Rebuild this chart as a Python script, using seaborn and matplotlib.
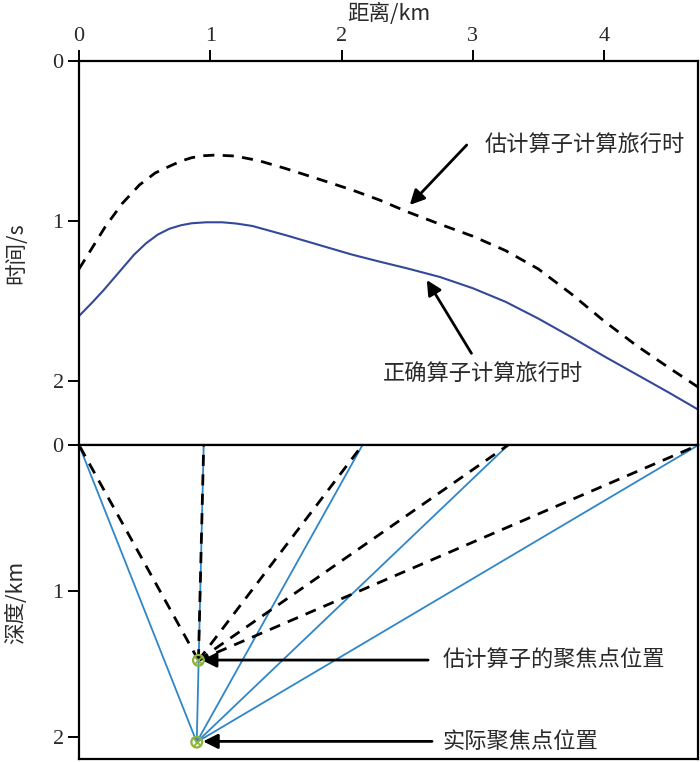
import numpy as np
import pandas as pd
import matplotlib
matplotlib.use("Agg")
import matplotlib.pyplot as plt
import seaborn as sns

# ---------------- data ----------------
dist_est = [0.0, 0.076, 0.2, 0.33, 0.46, 0.58, 0.71, 0.79, 0.86, 0.95, 1.04, 1.19, 1.37, 1.57, 1.83, 2.08, 2.29, 2.5,
            2.75, 3.0, 3.25, 3.5, 3.75, 4.0, 4.25, 4.5, 4.72]
time_est = [1.30, 1.20, 1.036, 0.89, 0.775, 0.70, 0.65, 0.622, 0.604, 0.592, 0.588, 0.594, 0.623, 0.671, 0.739, 0.806, 0.869, 0.942,
            1.02, 1.095, 1.185, 1.30, 1.455, 1.625, 1.78, 1.92, 2.04]

dist_true = [0.0, 0.1, 0.19, 0.33, 0.42, 0.51, 0.6, 0.69, 0.78, 0.86, 0.97, 1.09, 1.2, 1.32, 1.57, 1.83, 2.08, 2.29, 2.5,
             2.75, 3.0, 3.25, 3.5, 3.75, 4.0, 4.25, 4.5, 4.72]
time_true = [1.594, 1.51, 1.43, 1.296, 1.21, 1.14, 1.085, 1.048, 1.026, 1.014, 1.008, 1.008, 1.016, 1.031, 1.0875, 1.15, 1.21, 1.254, 1.296,
             1.35, 1.42, 1.505, 1.61, 1.725, 1.845, 1.96, 2.075, 2.18]

receivers_x = [0.0, 0.95, 2.16, 3.27, 4.72]
est_focus = (0.91, 1.475)
true_focus = (0.897, 2.035)

x_ticks = [0, 1, 2, 3, 4]
t_ticks = [0, 1, 2]
z_ticks = [0, 1, 2]

lab_dist = "距离/km"
lab_time = "时间/s"
lab_depth = "深度/km"
txt_est_tt = "估计算子计算旅行时"
txt_true_tt = "正确算子计算旅行时"
txt_est_focus = "估计算子的聚焦点位置"
txt_true_focus = "实际聚焦点位置"

# ---------------- style ----------------
sns.set_theme(style="white")
plt.rcParams["font.family"] = ["Liberation Serif", "Noto Sans CJK SC", "DejaVu Sans"]
cjk = ["Noto Sans CJK SC", "DejaVu Sans"]
txtcol = "#2a2a2a"

fig = plt.figure(figsize=(7.0, 7.62), dpi=100)
W, H = 700, 762
left, right = 79 / W, 698 / W
ax1 = fig.add_axes([left, 1 - 445 / H, right - left, (445 - 61) / H])
ax2 = fig.add_axes([left, 1 - 759 / H, right - left, (759 - 445) / H])

xmax = 619 / 131.25

arrow_kw = dict(arrowstyle="-|>", color="black", lw=2, mutation_scale=22, shrinkA=0, shrinkB=0)

# ---------- top panel ----------
df_est = pd.DataFrame({"dist": dist_est, "time": time_est})
df_true = pd.DataFrame({"dist": dist_true, "time": time_true})
sns.lineplot(data=df_est, x="dist", y="time", ax=ax1, color="black", lw=2.0,
             linestyle=(0, (4, 3)), sort=False, estimator=None)
sns.lineplot(data=df_true, x="dist", y="time", ax=ax1, color="#34489a", lw=1.5,
             sort=False, estimator=None)
ax1.set_xlim(0, xmax)
ax1.set_ylim(2.4, 0)
ax1.xaxis.tick_top()
ax1.xaxis.set_label_position("top")
ax1.set_xticks(x_ticks)
ax1.set_yticks(t_ticks)
ax1.set_xlabel(lab_dist, family=cjk, fontsize=15.5, color=txtcol, labelpad=5)
ax1.set_ylabel(lab_time, family=cjk, fontsize=15.5, color=txtcol, labelpad=18)

ax1.text(3.093, 0.525, txt_est_tt, fontsize=16, family=cjk, color=txtcol, va="center", ha="left")
ax1.annotate("", xy=(2.52, 0.9), xytext=(2.954, 0.525), arrowprops=arrow_kw)
ax1.text(2.316, 1.96, txt_true_tt, fontsize=16, family=cjk, color=txtcol, va="center", ha="left")
ax1.annotate("", xy=(2.65, 1.369), xytext=(2.99, 1.827), arrowprops=arrow_kw)

# ---------- bottom panel ----------
rows = []
for i, rx in enumerate(receivers_x):
    rows.append({"x": est_focus[0], "z": est_focus[1], "ray": i, "kind": "est"})
    rows.append({"x": rx, "z": 0.0, "ray": i, "kind": "est"})
    rows.append({"x": true_focus[0], "z": true_focus[1], "ray": i, "kind": "true"})
    rows.append({"x": rx, "z": 0.0, "ray": i, "kind": "true"})
rays = pd.DataFrame(rows)
sns.lineplot(data=rays[rays.kind == "true"], x="x", y="z", units="ray", estimator=None,
             sort=False, ax=ax2, color="#2f86c8", lw=1.3)
sns.lineplot(data=rays[rays.kind == "est"], x="x", y="z", units="ray", estimator=None,
             sort=False, ax=ax2, color="black", lw=2.0, linestyle=(0, (4, 3)))
foc = pd.DataFrame({"x": [est_focus[0], true_focus[0]], "z": [est_focus[1], true_focus[1]]})
sns.scatterplot(data=foc, x="x", y="z", ax=ax2, marker="o", s=60, facecolor="none",
                edgecolor="#8db33a", linewidth=1.6, zorder=5)
sns.scatterplot(data=foc, x="x", y="z", ax=ax2, marker="x", s=30, color="#8db33a",
                linewidth=1.3, zorder=5)

ax2.set_xlim(0, xmax)
ax2.set_ylim(314 / 146, 0)
ax2.set_xticks([])
ax2.set_yticks(z_ticks)
ax2.set_xlabel("")
ax2.set_ylabel(lab_depth, family=cjk, fontsize=15.5, color=txtcol, labelpad=18)

ax2.text(2.77, 1.475, txt_est_focus, fontsize=16, family=cjk, color=txtcol, va="center", ha="left")
ax2.annotate("", xy=(0.935, 1.473), xytext=(2.66, 1.473), arrowprops=arrow_kw)
ax2.text(2.77, 2.03, txt_true_focus, fontsize=16, family=cjk, color=txtcol, va="center", ha="left")
ax2.annotate("", xy=(0.945, 2.03), xytext=(2.69, 2.03), arrowprops=arrow_kw)

for ax in (ax1, ax2):
    for sp in ax.spines.values():
        sp.set_visible(True)
        sp.set_color("black")
        sp.set_linewidth(1.6)
    ax.tick_params(axis="both", which="major", direction="out", length=8, width=1.4,
                   labelsize=16, colors="black", labelcolor=txtcol, pad=3)
    ax.tick_params(axis="y", left=True, right=False)
ax1.tick_params(axis="x", top=True, bottom=False)

fig.savefig("out.png", dpi=100)
